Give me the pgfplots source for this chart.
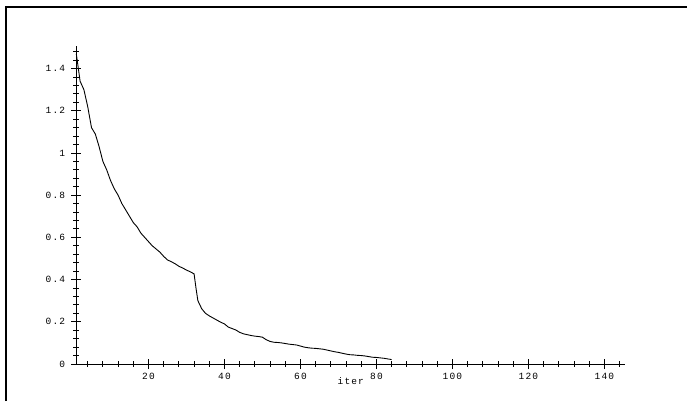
\documentclass[border=0pt]{standalone}
\usepackage{fontspec}
\setmonofont[LetterSpace=12]{Liberation Mono}
\usepackage{pgfplots}
\pgfplotsset{compat=1.18}

\begin{document}
\begin{tikzpicture}[x=1pt,y=1pt]
\useasboundingbox (0,0) rectangle (687,401);
% page frame, cut off at right and bottom
\draw[line width=2.2pt] (6.3,0) -- (6.3,394.3) -- (687,394.3);
\begin{axis}[
  at={(76.3pt,37pt)}, anchor=south west,
  scale only axis, width=549pt, height=317.6pt,
  xmin=1, xmax=145.5, ymin=0, ymax=1.505,
  axis lines=left, axis line style={-, line width=0.9pt},
  xtick={20,40,...,140}, ytick={0,0.2,...,1.4},
  minor xtick={4,8,...,144}, minor ytick={0.04,0.08,...,1.48},
  tick align=center,
  major tick length=10pt, minor tick length=6pt,
  every tick/.style={black, line width=0.9pt},
  /pgf/number format/assume math mode=true,
  /pgf/number format/fixed,
  tick label style={font=\ttfamily\fontsize{9.5}{10}\selectfont},
  xticklabel style={anchor=north, inner sep=0pt, yshift=-3.5pt},
  yticklabel style={anchor=east, inner sep=0pt, xshift=-6pt},
  xlabel={iter},
  xlabel style={font=\ttfamily\fontsize{9.5}{10}\selectfont,
    at={(axis description cs:0.5,0)}, anchor=center, yshift=-17pt},
  clip=false,
]
\addplot[black, line width=0.9pt] coordinates {
 (1,1.47)(2,1.34)(3,1.30)(4,1.22)(5,1.12)(6,1.09)(7,1.03)(8,0.96)(9,0.92)
 (10,0.87)(11,0.83)(12,0.80)(13,0.76)(14,0.73)(15,0.70)(16,0.67)(17,0.65)
 (18,0.62)(19,0.60)(20,0.58)(21,0.56)(22,0.545)(23,0.53)(24,0.51)(25,0.493)
 (26,0.485)(27,0.475)(28,0.463)(29,0.455)(30,0.445)(31,0.437)(32,0.427)
 (32.5,0.36)(33,0.30)(34,0.262)(35,0.24)(36,0.228)(37,0.218)(38,0.208)
 (39,0.198)(40,0.19)(41,0.175)(42,0.168)(43,0.161)(44,0.15)(45,0.143)
 (46,0.139)(47,0.135)(48,0.132)(49,0.13)(50,0.127)(51,0.115)(52,0.107)
 (53,0.103)(54,0.102)(55,0.1)(56,0.097)(57,0.094)(58,0.092)(59,0.09)
 (60,0.085)(61,0.08)(62,0.077)(63,0.075)(64,0.074)(65,0.072)(66,0.07)
 (67,0.066)(68,0.062)(69,0.058)(70,0.055)(71,0.051)(72,0.047)(73,0.044)
 (74,0.043)(75,0.041)(76,0.04)(77,0.038)(78,0.035)(79,0.032)(80,0.031)
 (81,0.029)(82,0.027)(83,0.024)(84,0.021)};
\end{axis}
\end{tikzpicture}
\end{document}
